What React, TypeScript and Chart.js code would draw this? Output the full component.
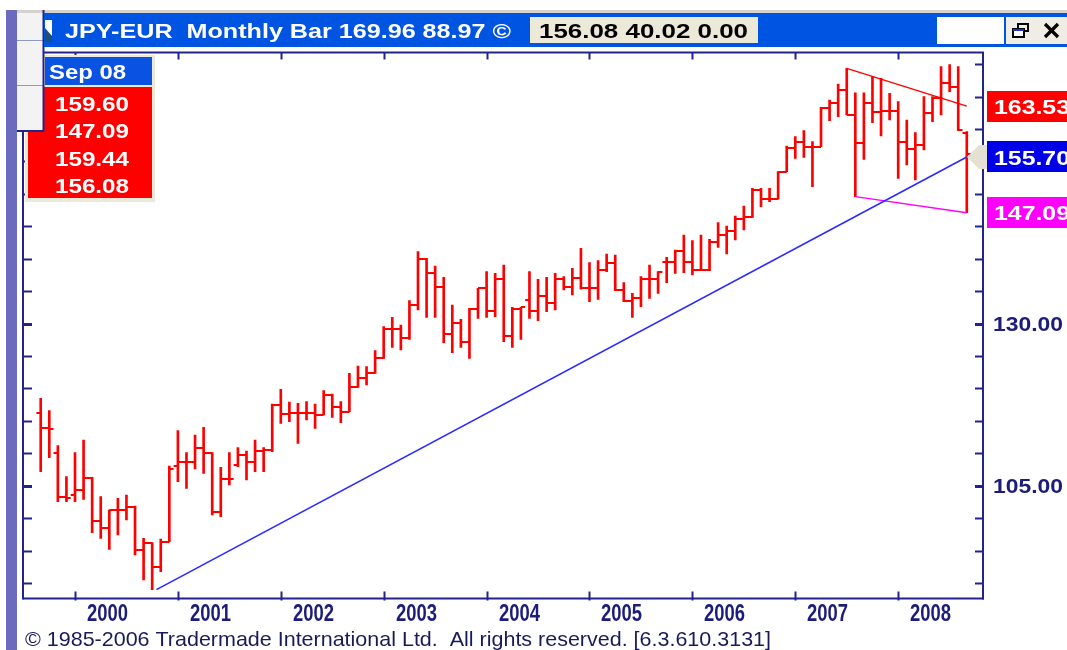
import React, { useEffect, useRef } from 'react';
import { Chart, registerables } from 'chart.js';

Chart.register(...registerables);

// ---------- DATA ----------
const MONTH_NAMES = ['Jan', 'Feb', 'Mar', 'Apr', 'May', 'Jun', 'Jul', 'Aug', 'Sep', 'Oct', 'Nov', 'Dec'];
const FIRST_YEAR = 1999;
const FIRST_MONTH = 8; // Sep 1999

const openP = [
  116.16, 113.95, 110.0, 103.31, 103.56, 104.34, 106.13, 99.55, 98.42, 101.25,
  101.25, 101.66, 95.08, 96.11, 92.41, 96.37, 108.04, 108.7, 108.7, 110.86,
  110.09, 101.0, 106.08, 108.2, 109.73, 108.7, 110.35, 110.5, 117.44, 116.06,
  116.16, 116.26, 116.26, 115.9, 119.0, 117.09, 116.42, 120.17, 121.56, 122.33,
  124.75, 129.17, 129.17, 127.83, 132.87, 139.91, 137.85, 135.7, 128.4, 130.04,
  127.21, 132.2, 135.44, 131.99, 136.83, 128.09, 132.25, 133.64, 131.99, 134.26,
  133.23, 136.83, 135.7, 137.08, 135.44, 135.44, 138.27, 139.29, 135.18, 133.49,
  133.9, 136.83, 136.83, 139.55, 139.55, 141.25, 139.55, 138.27, 138.27, 142.64,
  143.66, 144.3, 146.08, 146.49, 150.6, 149.2, 149.17, 153.43, 157.03, 158.06,
  157.18, 157.29, 163.3, 163.97, 166.0, 162.17, 157.8, 163.97, 162.69, 162.79,
  162.79, 158.06, 156.88, 157.5, 162.53, 164.74, 167.06, 166.5, 159.44,
];
const highP = [
  118.47, 116.57, 111.17, 106.39, 110.09, 112.05, 106.29, 103.31, 101.25, 103.05,
  103.56, 101.87, 96.88, 96.21, 96.78, 108.04, 113.49, 110.09, 112.82, 114.0,
  110.09, 107.83, 110.09, 110.86, 110.35, 112.05, 110.86, 117.6, 119.86, 117.91,
  117.7, 117.96, 117.6, 119.66, 119.14, 117.96, 122.33, 123.46, 123.36, 125.83,
  129.53, 130.97, 129.78, 133.54, 141.09, 140.07, 138.88, 137.13, 132.87, 130.66,
  132.35, 135.44, 138.01, 137.75, 139.04, 132.51, 132.51, 138.01, 136.83, 137.13,
  137.75, 137.24, 138.52, 141.61, 139.4, 139.71, 140.73, 140.58, 136.31, 134.67,
  137.24, 139.04, 138.01, 140.22, 141.35, 143.66, 142.79, 143.66, 143.0, 145.57,
  145.05, 146.6, 148.14, 150.86, 150.86, 150.86, 153.43, 157.39, 158.83, 159.75,
  158.06, 163.35, 164.48, 166.95, 169.37, 165.6, 165.6, 168.08, 167.83, 165.52,
  164.23, 161.4, 159.44, 165.0, 165.0, 169.63, 169.96, 169.63, 159.6,
];
const lowP = [
  107.16, 109.32, 102.54, 102.54, 102.54, 102.9, 97.75, 96.88, 95.18, 97.39,
  99.71, 94.31, 90.45, 88.97, 91.74, 96.37, 105.62, 104.59, 107.57, 106.91,
  100.48, 100.22, 105.11, 107.93, 105.88, 107.16, 107.16, 110.25, 114.62, 114.87,
  111.53, 115.13, 113.85, 115.9, 115.54, 114.72, 116.42, 120.17, 120.53, 122.33,
  124.64, 126.34, 125.93, 127.57, 132.1, 130.97, 130.97, 127.06, 125.52, 126.34,
  124.64, 130.81, 130.97, 131.07, 127.21, 126.34, 127.57, 130.81, 130.45, 131.84,
  132.1, 135.18, 134.41, 135.29, 133.38, 133.74, 138.01, 135.08, 133.38, 130.97,
  132.61, 133.9, 134.67, 136.3, 137.75, 137.85, 137.5, 138.16, 138.16, 141.76,
  140.73, 142.9, 144.44, 146.39, 148.03, 148.8, 149.17, 153.43, 155.49, 155.64,
  151.12, 157.29, 161.3, 161.9, 162.17, 149.58, 155.33, 160.99, 158.93, 161.4,
  152.4, 154.46, 152.15, 156.77, 161.14, 162.17, 165.77, 159.75, 147.09,
];
const closeP = [
  113.95, 113.69, 103.31, 103.15, 104.34, 106.13, 99.55, 98.42, 101.25, 101.25,
  101.66, 95.08, 96.11, 92.41, 96.37, 107.5, 108.7, 108.7, 110.86, 110.09,
  101.0, 106.08, 106.08, 109.73, 108.7, 110.35, 110.5, 117.44, 116.06, 116.16,
  116.26, 116.26, 115.9, 119.0, 117.09, 116.42, 120.17, 121.56, 122.33, 124.75,
  129.17, 129.17, 127.83, 132.87, 139.91, 137.85, 135.7, 128.4, 130.04, 127.21,
  132.2, 135.44, 131.99, 136.83, 128.09, 132.25, 132.51, 131.99, 134.26, 133.23,
  136.83, 135.7, 137.08, 135.44, 135.44, 138.27, 139.29, 135.18, 133.49, 133.9,
  136.83, 136.83, 138.01, 139.55, 141.25, 139.55, 138.27, 138.27, 142.64, 143.66,
  144.3, 146.08, 146.49, 150.6, 149.2, 149.17, 153.43, 157.03, 158.06, 157.18,
  157.29, 163.3, 163.97, 166.0, 162.17, 157.8, 163.97, 162.69, 162.79, 162.79,
  158.06, 156.88, 157.5, 162.53, 164.74, 167.06, 166.5, 159.9, 156.08,
];

// category labels (one per monthly bar) and their position in months since Jan 2000
const months = openP.map((_, i) => {
  const t = FIRST_MONTH + i;
  const yy = (FIRST_YEAR + Math.floor(t / 12)) % 100;
  return `${MONTH_NAMES[t % 12]} ${String(yy).padStart(2, '0')}`;
});
const monthPos = months.map((_, i) => (FIRST_YEAR - 2000) * 12 + FIRST_MONTH + i);

const yearLabels = ['2000', '2001', '2002', '2003', '2004', '2005', '2006', '2007', '2008'];
const yearTickPos = [0, 12, 24, 36, 48, 60, 72, 84, 96];
const yTickValues = [90, 95, 100, 105, 110, 115, 120, 125, 130, 135, 140, 145, 150, 155, 160, 165, 170];
const yLabelValues = [130, 105];
const yLabelTexts = ['130.00', '105.00'];

// drawn trend lines (month position, price)
const blueLineX = [9.5, 104];
const blueLineY = [88.97, 155.7];
const redLineX = [90, 104];
const redLineY = [169.37, 163.53];
const magentaLineX = [91, 104];
const magentaLineY = [149.58, 147.09];

// price tags on the right
const tagValues = [163.53, 155.7, 147.09];
const tagTexts = ['163.53', '155.70', '147.09'];
const tagColors = ['#ff0000', '#0000e8', '#ff00ff'];

const titleText = 'JPY-EUR  Monthly Bar 169.96 88.97 \u00A9';
const infoText = '156.08 40.02 0.00';
const dataBoxDate = 'Sep 08';
const dataBoxValues = ['159.60', '147.09', '159.44', '156.08'];
const copyrightText = '\u00A9 1985-2006 Tradermade International Ltd.  All rights reserved. [6.3.610.3131]';

// ---------- STYLE ----------
const NAVY = '#23238a';
const TEXT_NAVY = '#1c1c7a';
const SANS = '"Liberation Sans", Arial, sans-serif';
const NARROW = '"Liberation Sans Narrow", "Liberation Sans", Arial, sans-serif';

function txt(
  ctx: CanvasRenderingContext2D,
  s: string,
  x: number,
  yc: number,
  size: number,
  weight: string,
  family: string,
  color: string,
  width?: number,
  align: 'left' | 'center' | 'right' = 'left'
) {
  ctx.save();
  ctx.font = `${weight} ${size}px ${family}`;
  ctx.fillStyle = color;
  ctx.textBaseline = 'alphabetic';
  ctx.textAlign = 'left';
  const w = ctx.measureText(s).width;
  const sx = width ? width / w : 1;
  const dw = w * sx;
  let x0 = x;
  if (align === 'center') x0 = x - dw / 2;
  else if (align === 'right') x0 = x - dw;
  ctx.translate(x0, yc + size * 0.36);
  ctx.scale(sx, 1);
  ctx.fillText(s, 0, 0);
  ctx.restore();
}

function line(ctx: CanvasRenderingContext2D, x1: number, y1: number, x2: number, y2: number, color: string, w: number) {
  ctx.save();
  ctx.strokeStyle = color;
  ctx.lineWidth = w;
  ctx.beginPath();
  ctx.moveTo(x1, y1);
  ctx.lineTo(x2, y2);
  ctx.stroke();
  ctx.restore();
}

const chromePlugin = {
  id: 'tradermadeChrome',
  beforeDraw(chart: any) {
    const ctx = chart.ctx as CanvasRenderingContext2D;
    ctx.save();
    ctx.fillStyle = '#ffffff';
    ctx.fillRect(0, 0, chart.width, chart.height);
    ctx.restore();
  },
  afterDatasetsDraw(chart: any) {
    const ctx = chart.ctx as CanvasRenderingContext2D;
    const xs = chart.scales.x;
    const ys = chart.scales.y;
    ctx.save();
    ctx.strokeStyle = '#ff0000';
    ctx.lineWidth = 2;
    ctx.beginPath();
    for (let i = 0; i < monthPos.length; i++) {
      const x = xs.getPixelForValue(monthPos[i]);
      const yo = Math.round(ys.getPixelForValue(openP[i]));
      const yc = Math.round(ys.getPixelForValue(closeP[i]));
      ctx.moveTo(x - 4.3, yo);
      ctx.lineTo(x, yo);
      ctx.moveTo(x, yc);
      ctx.lineTo(x + 4.3, yc);
    }
    ctx.stroke();
    ctx.restore();
  },
  afterDraw(chart: any) {
    const ctx = chart.ctx as CanvasRenderingContext2D;
    const xs = chart.scales.x;
    const ys = chart.scales.y;
    const { left, right, top, bottom } = chart.chartArea;

    // plot frame
    line(ctx, left, top, right + 1, top, NAVY, 2);
    line(ctx, right, top, right, bottom + 1, NAVY, 2);
    line(ctx, left - 1, bottom, right + 1, bottom, NAVY, 2);
    line(ctx, left - 1, top, left - 1, bottom + 1, NAVY, 2);

    // y ticks (both sides, inside)
    yTickValues.forEach((v) => {
      const y = Math.round(ys.getPixelForValue(v)) + 0.5;
      const major = yLabelValues.includes(v);
      line(ctx, left - 1, y, left + 8, y, NAVY, major ? 3 : 2);
      line(ctx, right - 8, y, right, y, NAVY, major ? 3 : 2);
    });
    // x ticks (top and bottom, inside)
    yearTickPos.forEach((m, i) => {
      const x = Math.round(xs.getPixelForValue(m)) + 0.5;
      line(ctx, x, top, x, top + 7, NAVY, 2);
      line(ctx, x, bottom - 7, x, bottom + 2, NAVY, 2);
      txt(ctx, yearLabels[i], x + 32, 612, 24, 'bold', NARROW, TEXT_NAVY, 41, 'center');
    });
    // y labels
    yLabelValues.forEach((v, i) => {
      const y = ys.getPixelForValue(v);
      txt(ctx, yLabelTexts[i], 993, y, 20, 'bold', SANS, TEXT_NAVY, 70);
    });

    // price tags
    tagValues.forEach((v, i) => {
      const y = ys.getPixelForValue(v);
      ctx.save();
      ctx.fillStyle = tagColors[i];
      ctx.fillRect(987, Math.round(y - 15.5), 80, 31);
      ctx.restore();
      txt(ctx, tagTexts[i], 994, y, 21, 'bold', SANS, '#ffffff', 76);
      if (i === 1) {
        ctx.save();
        ctx.fillStyle = '#e4e1d2';
        ctx.beginPath();
        ctx.moveTo(967, y);
        ctx.lineTo(979, y - 12);
        ctx.lineTo(987, y - 12);
        ctx.lineTo(987, y + 12);
        ctx.lineTo(979, y + 12);
        ctx.closePath();
        ctx.fill();
        ctx.restore();
      }
    });

    // copyright
    txt(ctx, copyrightText, 25, 638, 21, 'normal', NARROW, '#1a1a5a', 746);

    // data box (top-left)
    ctx.save();
    ctx.fillStyle = '#ece9d8';
    ctx.fillRect(25, 55, 130, 147);
    ctx.fillStyle = '#0a52e2';
    ctx.fillRect(45, 57, 107, 28);
    ctx.fillStyle = '#ff0000';
    ctx.fillRect(28, 87, 124, 111);
    ctx.restore();
    txt(ctx, dataBoxDate, 49, 71, 21, 'bold', SANS, '#ffffff', 77);
    const rowY = [103, 130, 158, 185];
    dataBoxValues.forEach((s, i) => txt(ctx, s, 55, rowY[i], 21, 'bold', SANS, '#ffffff', 74));

    // purple side bar and top strip
    ctx.save();
    ctx.fillStyle = '#6a6abf';
    ctx.fillRect(6, 10, 11, 640);
    ctx.fillStyle = '#d6d3ce';
    ctx.fillRect(17, 10, 1050, 3);
    // left tool panel
    ctx.fillStyle = '#f3f3f3';
    ctx.fillRect(17, 13, 26, 118);
    ctx.restore();
    line(ctx, 17, 40.5, 43, 40.5, '#8a9cc0', 1);
    line(ctx, 17, 85.5, 43, 85.5, '#8a9cc0', 1);
    line(ctx, 43.5, 10, 43.5, 131, NAVY, 2);
    line(ctx, 17, 131, 44, 131, NAVY, 2);

    // title bar
    ctx.save();
    ctx.fillStyle = '#0054e2';
    ctx.fillRect(44, 13, 1023, 34);
    // small window icon
    ctx.fillStyle = '#ffffff';
    ctx.fillRect(45, 20, 7, 22);
    ctx.fillStyle = '#1f4f7a';
    ctx.beginPath();
    ctx.moveTo(45, 28);
    ctx.lineTo(52, 36);
    ctx.lineTo(52, 42);
    ctx.lineTo(45, 42);
    ctx.closePath();
    ctx.fill();
    ctx.restore();
    txt(ctx, titleText, 65, 30, 21, 'bold', SANS, '#ffffff', 446);

    // info box
    ctx.save();
    ctx.fillStyle = '#ece9d8';
    ctx.fillRect(530, 17, 228, 26);
    ctx.fillStyle = '#ffffff';
    ctx.fillRect(937, 17, 67, 27);
    ctx.fillStyle = '#f0eee4';
    ctx.fillRect(1006, 17, 61, 27);
    ctx.restore();
    txt(ctx, infoText, 539, 30, 21, 'bold', SANS, '#000000', 209);
    // restore + close icons
    ctx.save();
    ctx.strokeStyle = '#000000';
    ctx.lineWidth = 2;
    ctx.strokeRect(1018, 24, 10, 7);
    ctx.fillStyle = '#ffffff';
    ctx.fillRect(1013, 29, 11, 8);
    ctx.strokeRect(1013, 29, 11, 8);
    ctx.fillStyle = '#2030c0';
    ctx.fillRect(1013, 29, 11, 2);
    ctx.lineWidth = 3.2;
    ctx.beginPath();
    ctx.moveTo(1045, 24);
    ctx.lineTo(1058, 37);
    ctx.moveTo(1058, 24);
    ctx.lineTo(1045, 37);
    ctx.stroke();
    ctx.restore();
  },
};

export default function App() {
  const ref = useRef<HTMLCanvasElement>(null);
  useEffect(() => {
    const canvas = ref.current;
    if (!canvas) return;
    const chart = new Chart(canvas, {
      type: 'bar',
      data: {
        labels: months,
        datasets: [
          {
            type: 'line',
            label: 'Support trend',
            data: blueLineX.map((x, i) => ({ x, y: blueLineY[i] })),
            borderColor: '#2a2aff',
            borderWidth: 1.6,
            pointRadius: 0,
            order: 1,
          },
          {
            type: 'line',
            label: 'Upper line',
            data: redLineX.map((x, i) => ({ x, y: redLineY[i] })),
            borderColor: '#ff0000',
            borderWidth: 1.4,
            pointRadius: 0,
            order: 1,
          },
          {
            type: 'line',
            label: 'Lower line',
            data: magentaLineX.map((x, i) => ({ x, y: magentaLineY[i] })),
            borderColor: '#ff00ff',
            borderWidth: 1.4,
            pointRadius: 0,
            order: 1,
          },
          {
            type: 'bar',
            label: 'JPY-EUR',
            data: monthPos.map((x, i) => ({ x, y: [lowP[i], highP[i]] })) as any,
            backgroundColor: '#ff0000',
            borderWidth: 0,
            barThickness: 2,
            grouped: false,
            order: 2,
          } as any,
        ],
      },
      options: {
        animation: false,
        responsive: false,
        devicePixelRatio: 1,
        layout: { padding: { left: 24, right: 84, top: 52.5, bottom: 51.5 } },
        plugins: { legend: { display: false }, tooltip: { enabled: false } },
        scales: {
          x: { type: 'linear', min: -5.948, max: 105.89, offset: false, display: false },
          y: { type: 'linear', min: 87.6, max: 171.81, beginAtZero: false, display: false },
        },
      } as any,
      plugins: [chromePlugin],
    });
    return () => chart.destroy();
  }, []);
  return (
    <div style={{ position: 'fixed', left: 0, top: 0, width: 1067, height: 650, background: '#ffffff' }}>
      <canvas ref={ref} width={1067} height={650} style={{ display: 'block', width: 1067, height: 650 }} />
    </div>
  );
}
